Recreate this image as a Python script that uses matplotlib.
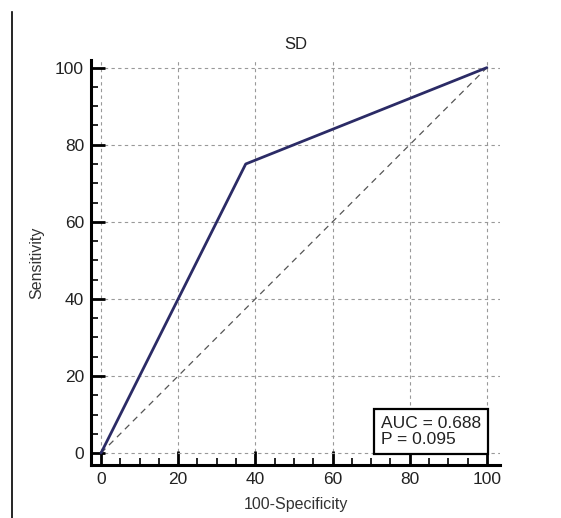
import matplotlib
matplotlib.use('Agg')
import matplotlib.pyplot as plt
from matplotlib.lines import Line2D
from matplotlib.ticker import MultipleLocator

plt.rcParams['font.family'] = ['Liberation Sans', 'DejaVu Sans']

# ROC points (100-Specificity, Sensitivity)
fpr = [0, 37.5, 100]
tpr = [0, 75, 100]
diag = [0, 100]
auc_txt = 'AUC = 0.688\nP = 0.095'

fig = plt.figure(figsize=(5.61, 5.18), dpi=100)
ax = fig.add_axes([0.1622, 0.1023, 0.729, 0.782])

ax.plot(diag, diag, ls=(0, (5, 4)), color='#555555', lw=0.9)
ax.plot(fpr, tpr, color='#2b2b66', lw=2.0, solid_capstyle='round')

ax.set_xlim(-2.6, 103.4)
ax.set_ylim(-3.1, 102)
ax.xaxis.set_major_locator(MultipleLocator(20))
ax.yaxis.set_major_locator(MultipleLocator(20))
ax.xaxis.set_minor_locator(MultipleLocator(5))
ax.yaxis.set_minor_locator(MultipleLocator(5))
ax.grid(True, which='major', ls=(0, (3, 3)), color='#999999', lw=0.8)

for s in ['top', 'right']:
    ax.spines[s].set_visible(False)
for s in ['left', 'bottom']:
    ax.spines[s].set_linewidth(2.2)
ax.tick_params(which='major', direction='in', length=10, width=2, labelsize=12.5,
               pad=5, labelcolor='#222222')
ax.tick_params(which='minor', direction='in', length=5, width=1.2)

ax.set_title('SD', fontsize=12, pad=8, color='#222222')
ax.set_xlabel('100-Specificity', fontsize=11.5, labelpad=7, color='#333333')
ax.set_ylabel('Sensitivity', fontsize=11.5, labelpad=8, color='#333333')

ax.text(98.4, 1.5, auc_txt, ha='right', va='bottom', multialignment='left',
        fontsize=12.5, linespacing=1.1, color='#222222',
        bbox=dict(boxstyle='square,pad=0.4', fc='white', ec='black', lw=1.6))

fig.add_artist(Line2D([12/561, 12/561], [0, 1 - 12/518], color='black', lw=1.2,
                      transform=fig.transFigure))

fig.savefig('out.png', dpi=100)
